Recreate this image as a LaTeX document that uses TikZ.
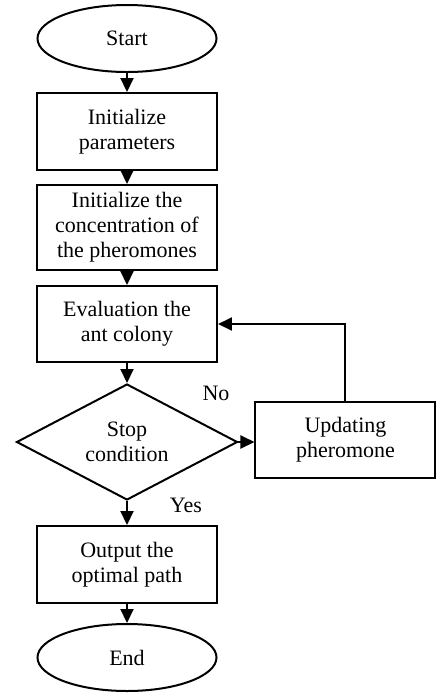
\documentclass[tikz,border=0pt]{standalone}
\usepackage{fontspec}
\setmainfont{Liberation Serif}
\usetikzlibrary{shapes.geometric,arrows.meta}
\begin{document}
\begin{tikzpicture}[x=0.5pt,y=-0.5pt,line width=1pt,
    font=\fontsize{11}{12.5}\selectfont,
    term/.style={ellipse,draw,minimum width=89.5pt,minimum height=33.5pt,inner sep=1pt},
    proc/.style={rectangle,draw,align=center,minimum width=90pt,inner sep=1pt},
    cond/.style={diamond,draw,align=center,aspect=1.9,minimum width=110.5pt,minimum height=58pt,inner sep=1pt},
    flow/.style={-{Triangle[length=7pt,width=6.5pt]}}]
  \useasboundingbox (0,0) rectangle (436,693);
  \node[term] (start) at (127,38.5) {Start};
  \node[proc,minimum height=38.5pt] (init) at (127,131.5) {Initialize\\parameters};
  \node[proc,minimum height=42.5pt] (conc) at (127,227.5) {Initialize the\\concentration of\\the pheromones};
  \node[proc,minimum height=38pt] (eval) at (127,324) {Evaluation the\\ant colony};
  \node[cond] (stop) at (127,442) {Stop\\condition};
  \node[proc,minimum height=38pt] (upd) at (345.5,440) {Updating\\pheromone};
  \node[proc,minimum height=38.5pt] (out) at (127,564.5) {Output the\\optimal path};
  \node[term] (end) at (127,657.5) {End};
  \node (no) at (216,393) {No};
  \node (yes) at (186,505) {Yes};
  \draw[flow] (start) -- (init);
  \draw[flow] (init) -- (conc);
  \draw[flow] (conc) -- (eval);
  \draw[flow] (eval) -- (stop);
  \draw[flow] (stop) -- (out);
  \draw[flow] (out) -- (end);
  \draw[flow] (stop.east) -- (stop.east -| upd.west);
  \draw[flow] (upd.north) |- (eval.east);
\end{tikzpicture}
\end{document}
